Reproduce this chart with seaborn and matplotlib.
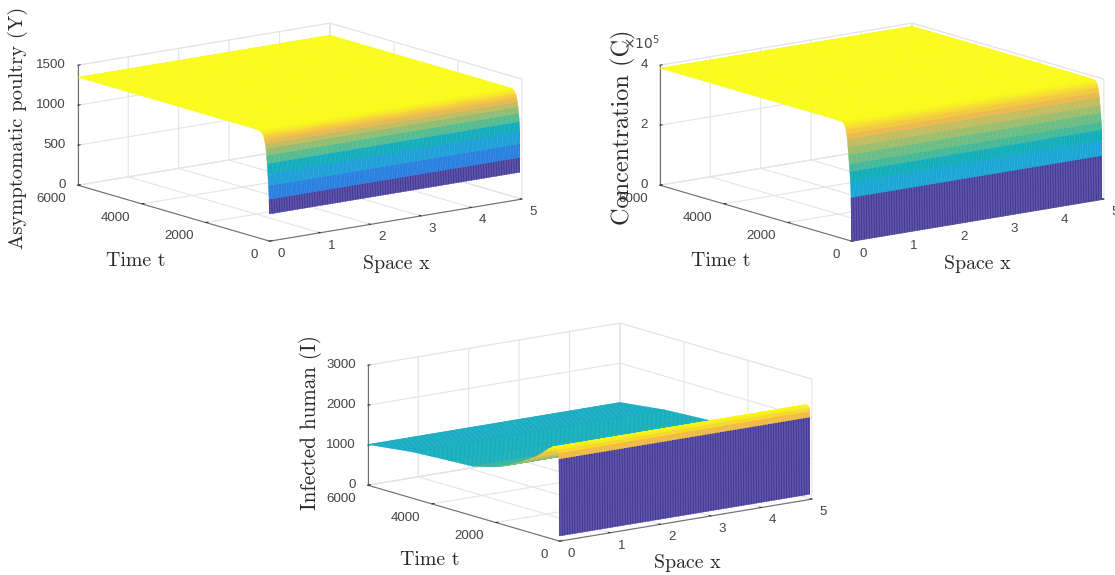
import numpy as np
import matplotlib
matplotlib.use('Agg')
import matplotlib.pyplot as plt
from matplotlib.colors import Normalize
import seaborn as sns

# values
x_space = np.arange(0, 5.05, 0.05)

t_poultry = [0, 20, 40, 60, 80, 100, 120, 140, 160, 180, 200, 220, 240, 260, 280, 300, 340, 400, 600, 6000]
y_poultry = [340, 520, 690, 835, 960, 1060, 1140, 1200, 1240, 1270, 1295, 1312, 1325, 1333, 1339, 1343, 1347, 1349, 1350, 1350]

t_conc = [0, 20, 40, 60, 80, 100, 120, 140, 160, 180, 200, 220, 240, 260, 300, 340, 400, 600, 6000]
y_conc = [0, 145000, 195000, 230000, 255000, 285000, 310000, 335000, 352000, 365000, 373000, 379000, 383000, 386000, 388000, 389000, 390000, 390000, 390000]

t_human = [0, 20, 40, 70, 110, 160, 220, 350, 500, 760, 1100, 1420, 1750, 2080, 2730, 3500, 4600, 6000]
y_human = [130, 2050, 2180, 2260, 2300, 2320, 2305, 2230, 2110, 1930, 1760, 1595, 1470, 1372, 1237, 1208, 1158, 1018]

parula_colors = ['#5f54ab', '#2a78e0', '#2a8fe0', '#1ba6d6', '#12aebc', '#59bd8c', '#a5be6b', '#f3ba4a', '#f9fb15']

x_ticks = [0, 1, 2, 3, 4, 5]
t_ticks = [0, 2000, 4000, 6000]
z_ticks_poultry = [0, 500, 1000, 1500]
z_ticks_conc = [0, 200000, 400000]
z_labels_conc = ['0', '2', '4']
z_ticks_human = [0, 1000, 2000, 3000]

sns.set_theme(style='white', rc={'grid.color': '#e4e4e4', 'grid.linewidth': 0.8})
plt.rcParams['font.family'] = ['Liberation Sans', 'DejaVu Sans']

parula = sns.blend_palette(parula_colors, n_colors=256, as_cmap=True)

W, H = 1115, 575
fig = plt.figure(figsize=(W / 100, H / 100), dpi=100)
SIDE = 451.5


def panel(left, bottom, t_vals, z_vals, z_max, z_ticks, z_labels=None):
    ax = fig.add_axes([left / W, bottom / H, SIDE / W, SIDE / H], projection='3d', proj_type='ortho', computed_zorder=False)
    ax.set_facecolor('none')
    ax.view_init(elev=12.74, azim=-127.1)
    ax.set_box_aspect((316, 318, 123))

    X, T = np.meshgrid(x_space, t_vals)
    Z = np.tile(np.array(z_vals, dtype=float).reshape(-1, 1), (1, len(x_space)))
    norm = Normalize(min(z_vals), max(z_vals))
    ax.plot_surface(X, T, Z, facecolors=parula(norm(Z)), rstride=1, cstride=1, shade=False, linewidth=0.3, zorder=2)
    # dark mesh lines only show on the steep first strip
    ax.plot_wireframe(X[:2], T[:2], Z[:2], rstride=0, cstride=1, color='#352a87', linewidth=0.5, zorder=3)

    ax.set_xlim(0, 5, view_margin=0)
    ax.set_ylim(0, 6000, view_margin=0)
    ax.set_zlim(0, z_max, view_margin=0)
    ax.set_xticks(x_ticks)
    ax.set_yticks(t_ticks)
    ax.set_zticks(z_ticks)
    if z_labels is not None:
        ax.set_zticklabels(z_labels)

    for axis in (ax.xaxis, ax.yaxis, ax.zaxis):
        axis.set_pane_color((1, 1, 1, 1))
        axis.pane.set_edgecolor('#e8e8e8')
        axis.pane.set_linewidth(0.6)
        axis.line.set_color('#707070')
        axis.line.set_linewidth(0.8)
        axis._axinfo['tick'].update({'inward_factor': 0.0, 'outward_factor': 0.12, 'linewidth': {True: 0.7, False: 0.5}, 'color': '#666666'})
    ax.zaxis.set_ticks_position('upper')
    ax.tick_params(axis='both', labelsize=9.6, labelcolor='#454545', pad=0)
    ax.xaxis.set_tick_params(pad=-1.5)
    ax.zaxis.set_tick_params(pad=-3.5)
    for tick in ax.get_xticklabels():
        tick.set_ha('left')
    for tick in ax.get_yticklabels():
        tick.set_ha('right')
    for tick in ax.get_zticklabels():
        tick.set_ha('right')
        tick.set_va('center')
    return ax


panel(68, 211, t_poultry, y_poultry, 1500, z_ticks_poultry)
panel(650, 211, t_conc, y_conc, 400000, z_ticks_conc, z_labels_conc)
panel(358, -89, t_human, y_human, 3000, z_ticks_human)


def label(px, py, s, rotation=0, size=14.3):
    fig.text(px / W, 1 - py / H, s, rotation=rotation, family='cmr10', size=size, color='#2a2a2a', ha='center', va='center')


label(136, 261, 'Time t')
label(396, 264, 'Space x')
label(18, 128, 'Asymptomatic poultry (Y)', 90, 14.8)
label(721, 261, 'Time t')
label(977, 264, 'Space x')
label(623, 127, 'Concentration (C)', 90, 17.5)
label(430, 560, 'Time t')
label(687, 563, 'Space x')
label(310, 423, 'Infected human (I)', 90, 15.2)
fig.text(641 / W, 1 - 43 / H, r'$\times 10^5$', fontsize=10, color='#454545', ha='center', va='center', math_fontfamily='dejavusans')

fig.savefig('out.png', dpi=100)
